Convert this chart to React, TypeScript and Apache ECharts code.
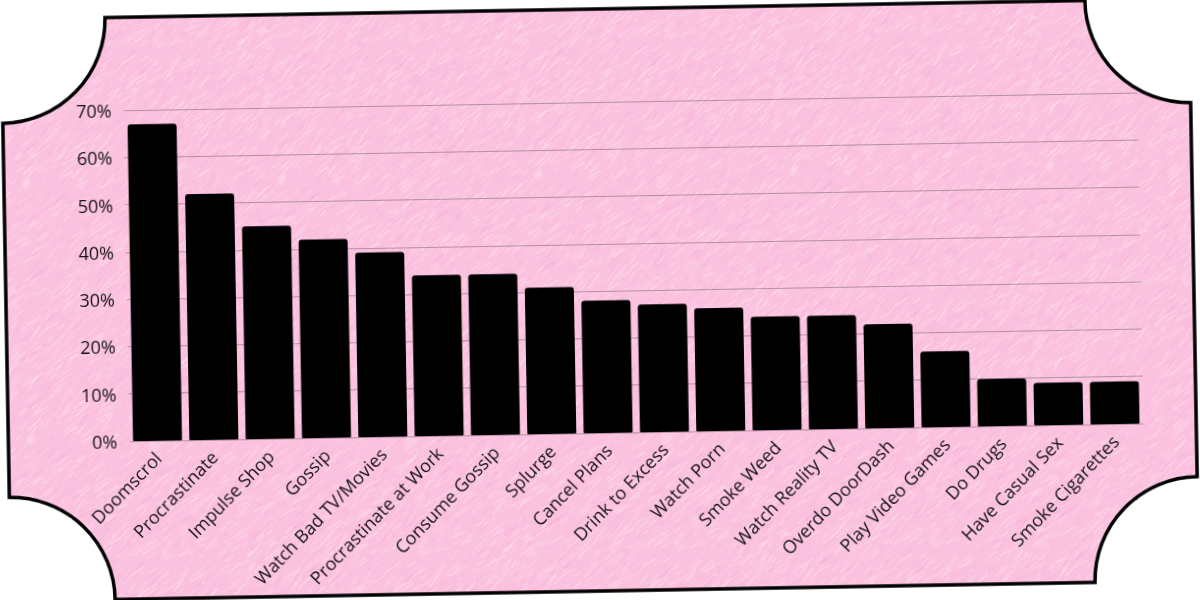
import React, { useEffect, useRef } from "react";
import * as echarts from "echarts";

const categories: string[] = [
  "Doomscrol",
  "Procrastinate",
  "Impulse Shop",
  "Gossip",
  "Watch Bad TV/Movies",
  "Procrastinate at Work",
  "Consume Gossip",
  "Splurge",
  "Cancel Plans",
  "Drink to Excess",
  "Watch Porn",
  "Smoke Weed",
  "Watch Reality TV",
  "Overdo DoorDash",
  "Play Video Games",
  "Do Drugs",
  "Have Casual Sex",
  "Smoke Cigarettes",
];

const values: number[] = [67, 52, 45, 42, 39, 34, 34, 31, 28, 27, 26, 24, 24, 22, 16, 10, 9, 9];

const yMin = 0;
const yMax = 70;
const yStep = 10;

// Ticket outline (decoration)
const TICKET_D =
  "M 110 9 L 1090 9 A 104 104 0 0 0 1194 113 L 1194 487 A 104 104 0 0 0 1090 591 " +
  "L 110 591 A 104 104 0 0 0 6 487 L 6 113 A 104 104 0 0 0 110 9 Z";

echarts.graphic.registerShape("ticket", echarts.graphic.extendPath(TICKET_D, {}) as any);

function makeTexture(): HTMLCanvasElement {
  const size = 256;
  const c = document.createElement("canvas");
  c.width = size;
  c.height = size;
  const g = c.getContext("2d")!;
  g.fillStyle = "#fbc2df";
  g.fillRect(0, 0, size, size);
  let seed = 12345;
  const rnd = () => {
    seed = (seed * 16807) % 2147483647;
    return seed / 2147483647;
  };
  g.lineCap = "round";
  for (let i = 0; i < 1800; i++) {
    const x = rnd() * size;
    const y = rnd() * size;
    const len = 4 + rnd() * 12;
    const ang = -Math.PI / 4.5 + (rnd() - 0.5) * 0.5;
    const light = rnd() < 0.65;
    g.strokeStyle = light
      ? `rgba(255,228,242,${0.25 + rnd() * 0.3})`
      : `rgba(248,160,208,${0.12 + rnd() * 0.18})`;
    g.lineWidth = 0.6 + rnd() * 1.0;
    const dx = Math.cos(ang) * len;
    const dy = Math.sin(ang) * len;
    for (const ox of [-size, 0, size]) {
      for (const oy of [-size, 0, size]) {
        g.beginPath();
        g.moveTo(x + ox, y + oy);
        g.lineTo(x + ox + dx, y + oy + dy);
        g.stroke();
      }
    }
  }
  return c;
}

export default function App() {
  const ref = useRef<HTMLDivElement>(null);

  useEffect(() => {
    if (!ref.current) return;
    const chart = echarts.init(ref.current, undefined, { renderer: "svg" });
    const texture = makeTexture();

    chart.setOption({
      animation: false,
      backgroundColor: "transparent",
      graphic: [
        {
          type: "ticket",
          x: 0,
          y: 0,
          z: -10,
          silent: true,
          style: {
            fill: { image: texture, repeat: "repeat" },
            stroke: "#000",
            lineWidth: 3.5,
          },
        },
      ],
      grid: { left: 127, right: 59, top: 102, bottom: 167, containLabel: false },
      xAxis: {
        type: "category",
        data: categories,
        axisLine: { show: false },
        axisTick: { show: false },
        axisLabel: {
          interval: 0,
          rotate: 45,
          margin: 14,
          fontSize: 18,
          color: "#151515",
          fontFamily: "'Open Sans', sans-serif",
        },
      },
      yAxis: {
        type: "value",
        min: yMin,
        max: yMax,
        interval: yStep,
        axisLine: { show: false },
        axisTick: { show: false },
        axisLabel: {
          formatter: "{value}%",
          fontSize: 18,
          margin: 12,
          color: "#151515",
          fontFamily: "'Open Sans', sans-serif",
        },
        splitLine: { lineStyle: { color: "rgba(110,90,100,0.5)", width: 1 } },
      },
      series: [
        {
          type: "bar",
          data: values,
          barCategoryGap: "13%",
          itemStyle: { color: "#000", borderRadius: [3, 3, 1, 1] },
        },
      ],
    });

    return () => chart.dispose();
  }, []);

  return (
    <div
      ref={ref}
      style={{
        position: "fixed",
        left: 0,
        top: 0,
        width: 1200,
        height: 600,
        transform: "rotate(-1deg)",
        transformOrigin: "600px 300px",
      }}
    />
  );
}
